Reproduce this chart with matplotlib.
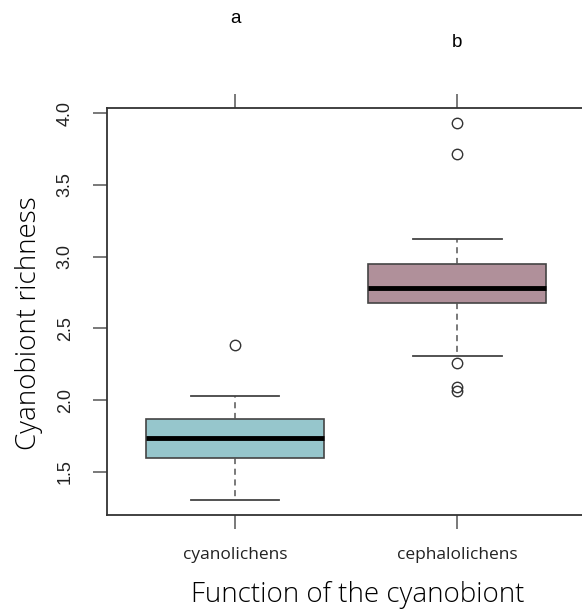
import matplotlib.pyplot as plt

# values
groups = ['cyanolichens', 'cephalolichens']
q1 = [1.600, 2.679]
med = [1.737, 2.783]
q3 = [1.869, 2.948]
whislo = [1.305, 2.310]
whishi = [2.031, 3.125]
fliers = [[2.384], [3.932, 3.714, 2.257, 2.094, 2.062]]
letters = ['a', 'b']
letter_y = [4.66, 4.49]
colors = ['#96c6cc', '#b0909a']

stats = []
for i, g in enumerate(groups):
    stats.append(dict(label=g, q1=q1[i], med=med[i], q3=q3[i],
                      whislo=whislo[i], whishi=whishi[i], fliers=fliers[i]))

fig = plt.figure(figsize=(5.82, 6.15), dpi=100)
ax = fig.add_axes([107 / 582, 1 - 515 / 615, 1.0 - 107 / 582 + 0.01, (515 - 108) / 615])

pos = [1, 2]
bp = ax.bxp(stats, positions=pos, widths=0.8, patch_artist=True, showfliers=True,
            boxprops=dict(edgecolor='#444444', linewidth=1.2),
            medianprops=dict(color='black', linewidth=3.5, solid_capstyle='butt'),
            whiskerprops=dict(color='#555555', linewidth=1.1, linestyle=(0, (4, 3))),
            capprops=dict(color='#444444', linewidth=1.3),
            capwidths=0.4,
            flierprops=dict(marker='o', markerfacecolor='none', markeredgecolor='#333333',
                            markersize=7.5, markeredgewidth=1.0))
for patch, c in zip(bp['boxes'], colors):
    patch.set_facecolor(c)

ax.set_xlim(0.424, 2.545 + 0.02 * 475 / 224)
ax.set_ylim(1.2, 4.035)

for s in ['left', 'bottom', 'top']:
    ax.spines[s].set_color('#333333')
    ax.spines[s].set_linewidth(1.3)
ax.spines['right'].set_visible(False)

ax.set_yticks([1.5, 2.0, 2.5, 3.0, 3.5, 4.0])
ax.set_yticklabels(['1.5', '2.0', '2.5', '3.0', '3.5', '4.0'], rotation=90, va='center',
                   fontfamily='Liberation Sans', fontsize=13, color='#222222')
ax.set_xticks(pos)
ax.set_xticklabels(groups, fontfamily='Open Sans', fontsize=12.5, color='#222222')
ax.tick_params(axis='both', direction='out', length=10, width=1.1, color='#555555')
ax.tick_params(axis='x', pad=13)
ax.tick_params(axis='y', pad=14)
ax.tick_params(axis='x', top=True)

for p, t, y in zip(pos, letters, letter_y):
    ax.text(p, y, t, ha='center', va='center', fontsize=13.5, fontfamily='Liberation Sans',
            clip_on=False)

ax.set_ylabel('Cyanobiont richness', fontfamily='Open Sans', fontsize=20,
              fontweight='light', va='center')
ax.yaxis.set_label_coords(-(107 - 30) / 475, (515 - 323) / 407)
ax.set_xlabel('Function of the cyanobiont', fontfamily='Open Sans', fontsize=20,
              fontweight='light', va='center')
ax.xaxis.set_label_coords((355 - 107) / 475, -(595 - 515) / 407)

fig.savefig('out.png', dpi=100)
